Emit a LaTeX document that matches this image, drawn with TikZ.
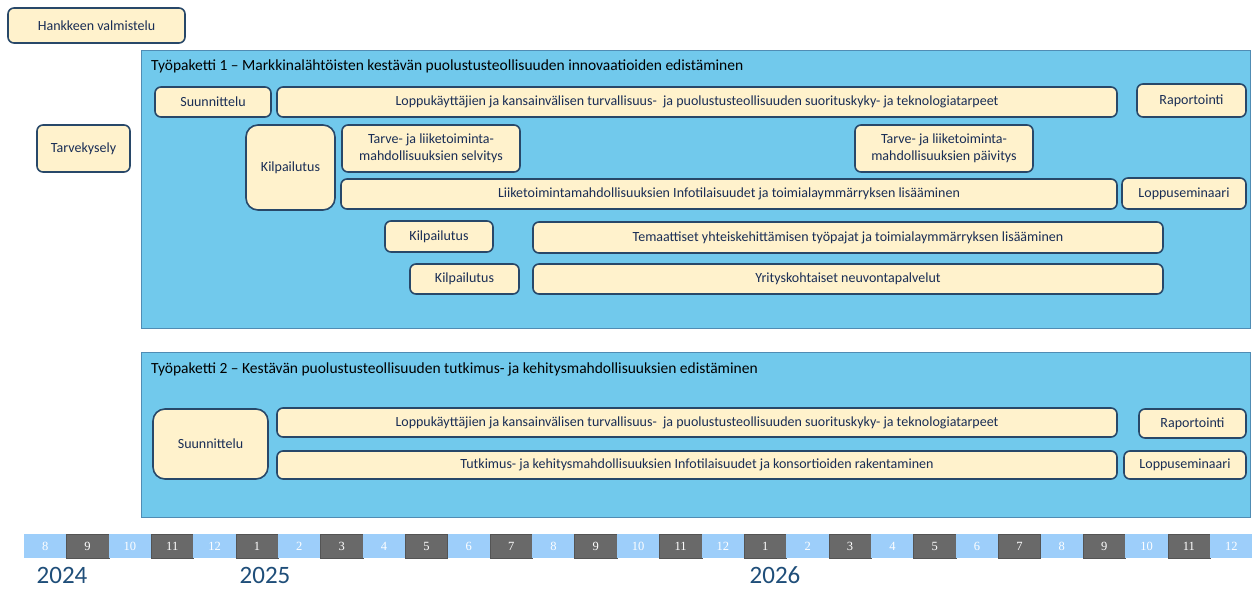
\documentclass[tikz,border=0pt]{standalone}
\usepackage{fontspec}
\setmainfont{Carlito}
\newfontfamily\numfont{Liberation Serif}
\definecolor{boxfill}{RGB}{255,242,204}
\definecolor{boxline}{RGB}{40,72,105}
\definecolor{txt}{RGB}{25,45,85}
\definecolor{panelfill}{RGB}{113,201,236}
\definecolor{panelline}{RGB}{80,140,180}
\definecolor{lightcell}{RGB}{157,206,250}
\definecolor{darkcell}{RGB}{105,105,105}
\definecolor{yearcol}{RGB}{31,78,121}
\tikzset{
  box/.style={draw=boxline, line width=1.6pt, fill=boxfill, rounded corners=6pt,
    text=txt, font=\fontsize{14}{17}\selectfont, inner sep=0pt, align=center},
  panel/.style={draw=panelline, line width=0.8pt, fill=panelfill, inner sep=0pt},
  ptitle/.style={anchor=base west, font=\fontsize{15.5}{18}\selectfont, text=black, inner sep=0pt},
  lc/.style={fill=lightcell, draw=none, text=white},
  dc/.style={fill=darkcell, draw=darkcell!80!black, line width=0.4pt, text=white},
  cell/.style={minimum width=42.4pt, minimum height=24pt, inner sep=0pt, font=\numfont\fontsize{12.5}{14}\selectfont},
  yearlbl/.style={text=yearcol, font=\fontsize{25}{27}\selectfont, inner sep=0pt}
}
\newcommand\bx[7][]{\node[box,minimum width={(#5-#3)*1pt},minimum height={(#6-#4)*1pt},#1] (#2) at ({(#3+#5)/2},{(#4+#6)/2}) {#7};}
\newcommand\pnl[5]{\node[panel,minimum width={(#4-#2)*1pt},minimum height={(#5-#3)*1pt}] (#1) at ({(#2+#4)/2},{(#3+#5)/2}) {};}
\begin{document}
\begin{tikzpicture}[x=1pt,y=-1pt]
\useasboundingbox (0,0) rectangle (1252,589);
% panels
\pnl{wpa}{141}{50}{1250}{328}
\pnl{wpb}{141}{352}{1250}{517}
\node[ptitle] (ta) at (151,70) {Työpaketti 1 – Markkinalähtöisten kestävän puolustusteollisuuden innovaatioiden edistäminen};
\node[ptitle] (tb) at (151,373) {Työpaketti 2 – Kestävän puolustusteollisuuden tutkimus- ja kehitysmahdollisuuksien edistäminen};
% outside boxes
\bx{hv}{8}{8}{185}{43}{Hankkeen valmistelu}
\bx{tk}{37}{125}{130}{172}{Tarvekysely}
% WP1
\bx{s1}{155}{87}{271}{117}{Suunnittelu}
\bx{l1}{277}{87}{1117}{117}{Loppukäyttäjien ja kansainvälisen turvallisuus-~ ja puolustusteollisuuden suorituskyky- ja teknologiatarpeet}
\bx{r1}{1137}{84}{1246}{117}{Raportointi}
\bx[rounded corners=12pt]{k1}{246}{125}{335}{210}{Kilpailutus}
\bx{ts}{342}{125}{520}{172}{Tarve- ja liiketoiminta-\\mahdollisuuksien selvitys}
\bx{tp}{855}{125}{1033}{172}{Tarve- ja liiketoiminta-\\mahdollisuuksien päivitys}
\bx{li}{341}{179}{1117}{209}{Liiketoimintamahdollisuuksien Infotilaisuudet ja toimialaymmärryksen lisääminen}
\bx{ls1}{1122}{178}{1246}{209}{Loppuseminaari}
\bx{k2}{385}{221}{493}{252}{Kilpailutus}
\bx{te}{533}{222}{1163}{253}{Temaattiset yhteiskehittämisen työpajat ja toimialaymmärryksen lisääminen}
\bx{k3}{410}{264}{519}{294}{Kilpailutus}
\bx{yr}{533}{264}{1163}{294}{Yrityskohtaiset neuvontapalvelut}
% WP2
\bx[rounded corners=12pt]{s2}{153}{409}{268}{479}{Suunnittelu}
\bx{l2}{277}{408}{1117}{437}{Loppukäyttäjien ja kansainvälisen turvallisuus-~ ja puolustusteollisuuden suorituskyky- ja teknologiatarpeet}
\bx{r2}{1139}{409}{1246}{438}{Raportointi}
\bx{tu}{277}{451}{1117}{479}{Tutkimus- ja kehitysmahdollisuuksien Infotilaisuudet ja konsortioiden rakentaminen}
\bx{ls2}{1124}{451}{1246}{479}{Loppuseminaari}
% timeline
\foreach \i/\m/\s in {0/8/lc,1/9/dc,2/10/lc,3/11/dc,4/12/lc,5/1/dc,6/2/lc,7/3/dc,8/4/lc,9/5/dc,10/6/lc,11/7/dc,12/8/lc,13/9/dc,14/10/lc,15/11/dc,16/12/lc,17/1/dc,18/2/lc,19/3/dc,20/4/lc,21/5/dc,22/6/lc,23/7/dc,24/8/lc,25/9/dc,26/10/lc,27/11/dc,28/12/lc}
  \node[cell,\s] (m\i) at ({24+42.36*\i+21.18},546) {\m};
\node[yearlbl] (y1) at (62,575) {2024};
\node[yearlbl] (y2) at (265,575) {2025};
\node[yearlbl] (y3) at (775,575) {2026};
\end{tikzpicture}
\end{document}
